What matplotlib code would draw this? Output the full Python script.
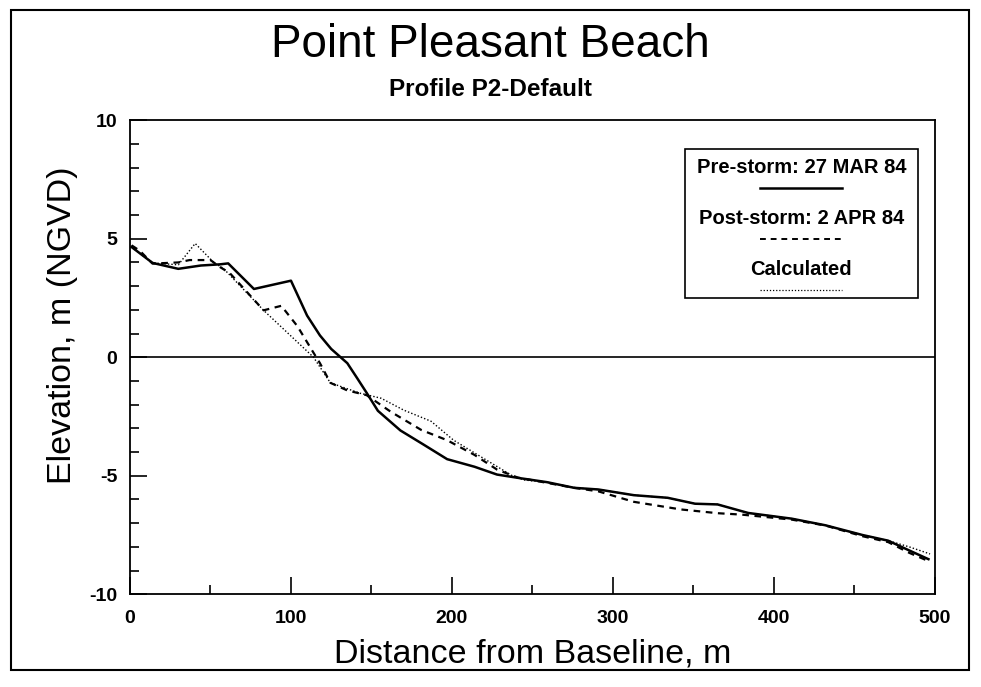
import matplotlib.pyplot as plt
from matplotlib.patches import Rectangle
from matplotlib.ticker import MultipleLocator

plt.rcParams['font.family'] = ['Liberation Sans', 'DejaVu Sans']
plt.rcParams['axes.unicode_minus'] = False

# Surveyed and modelled profiles (distance m, elevation m NGVD)
pre_x = [1, 14, 30, 44, 56, 61, 77, 100, 110, 118, 125, 135, 141, 147, 154,
         168, 182, 197, 214, 228, 243, 259, 276, 291, 313, 334, 351, 365,
         384, 411, 432, 455, 471, 484, 496]
pre_y = [4.65, 3.98, 3.73, 3.87, 3.92, 3.96, 2.88, 3.23, 1.76, 0.92, 0.35,
         -0.25, -0.87, -1.5, -2.26, -3.09, -3.67, -4.3, -4.62, -4.95, -5.11,
         -5.27, -5.51, -5.58, -5.82, -5.93, -6.18, -6.21, -6.57, -6.81,
         -7.09, -7.5, -7.74, -8.15, -8.52]

post_x = [1, 6, 14, 30, 37, 50, 56, 62, 83, 94, 104, 114, 118, 124.5, 135,
          147, 162, 181, 197, 214, 228, 241, 255, 275, 291, 313, 342, 365,
          380, 411, 432, 455, 471, 484, 496]
post_y = [4.72, 4.5, 3.95, 4.0, 4.1, 4.1, 3.8, 3.55, 1.98, 2.17, 1.31, 0.19,
          -0.25, -1.08, -1.4, -1.6, -2.3, -3.07, -3.5, -4.12, -4.74, -5.08,
          -5.25, -5.5, -5.66, -6.1, -6.42, -6.58, -6.64, -6.85, -7.1, -7.55,
          -7.8, -8.25, -8.6]

calc_x = [1, 14, 30, 40.5, 52, 58, 83, 114, 124.5, 143, 156, 170, 187, 201,
          218, 238.5, 245, 259, 276, 291, 313, 334, 351, 365, 384, 411, 432,
          455, 471, 484, 497]
calc_y = [4.65, 3.98, 3.9, 4.8, 4.0, 3.75, 1.98, 0.0, -1.08, -1.52, -1.73,
          -2.23, -2.7, -3.5, -4.2, -5.04, -5.18, -5.27, -5.51, -5.58, -5.82,
          -5.93, -6.18, -6.21, -6.57, -6.81, -7.09, -7.5, -7.74, -8.0, -8.3]

legend_labels = ['Pre-storm: 27 MAR 84', 'Post-storm: 2 APR 84', 'Calculated']

fig = plt.figure(figsize=(9.81, 6.87), dpi=100)
ax = fig.add_axes([0.1325, 0.135, 0.8205, 0.69])

ax.plot(pre_x, pre_y, color='black', lw=1.8, solid_joinstyle='round')
ax.plot(post_x, post_y, color='black', lw=1.6, ls=(0, (3, 2.5)))
ax.plot(calc_x, calc_y, color='black', lw=1.0, ls=(0, (1, 1.5)))
ax.axhline(0, color='black', lw=1.2)

ax.set_xlim(0, 500)
ax.set_ylim(-10, 10)
ax.xaxis.set_major_locator(MultipleLocator(100))
ax.xaxis.set_minor_locator(MultipleLocator(50))
ax.yaxis.set_major_locator(MultipleLocator(5))
ax.yaxis.set_minor_locator(MultipleLocator(1))
ax.tick_params(which='both', direction='in', width=1.2, labelsize=14)
ax.tick_params(axis='x', which='both', pad=11)
ax.tick_params(axis='y', which='both', pad=9)
ax.tick_params(which='major', length=12.5)
ax.tick_params(which='minor', length=6.5)
for lab in ax.get_xticklabels() + ax.get_yticklabels():
    lab.set_fontweight('bold')
for s in ax.spines.values():
    s.set_linewidth(1.3)

ax.set_xlabel('Distance from Baseline, m', fontsize=24.5)
ax.set_ylabel('Elevation, m (NGVD)', fontsize=24.5)
ax.xaxis.set_label_coords(0.5, -0.093)
ax.yaxis.set_label_coords(-0.064, 0.567)

fig.text(0.5, 0.935, 'Point Pleasant Beach', ha='center', va='center', fontsize=33)
fig.text(0.5, 0.870, 'Profile P2-Default', ha='center', va='center',
         fontsize=17.5, fontweight='bold')

# Key box in the upper right, drawn by hand
box = Rectangle((0.689, 0.624), 0.29, 0.315, transform=ax.transAxes,
                fill=False, lw=1.2, color='black')
ax.add_patch(box)
styles = [dict(lw=1.8, ls='-'), dict(lw=1.4, ls=(0, (3, 2.5))),
          dict(lw=0.9, ls=(0, (1, 1.5)))]
for i, (lab, st) in enumerate(zip(legend_labels, styles)):
    ty = 0.901 - i * 0.108
    ax.text(0.834, ty, lab, transform=ax.transAxes, ha='center', va='center',
            fontsize=14.5, fontweight='bold')
    ax.plot([0.783, 0.885], [ty - 0.044, ty - 0.044], transform=ax.transAxes,
            color='black', **st)

# Outer page border
fig.patches.append(Rectangle((0.011, 0.025), 0.977, 0.96, transform=fig.transFigure,
                             fill=False, lw=1.5, color='black'))

fig.savefig('out.png', dpi=100, facecolor='white')
